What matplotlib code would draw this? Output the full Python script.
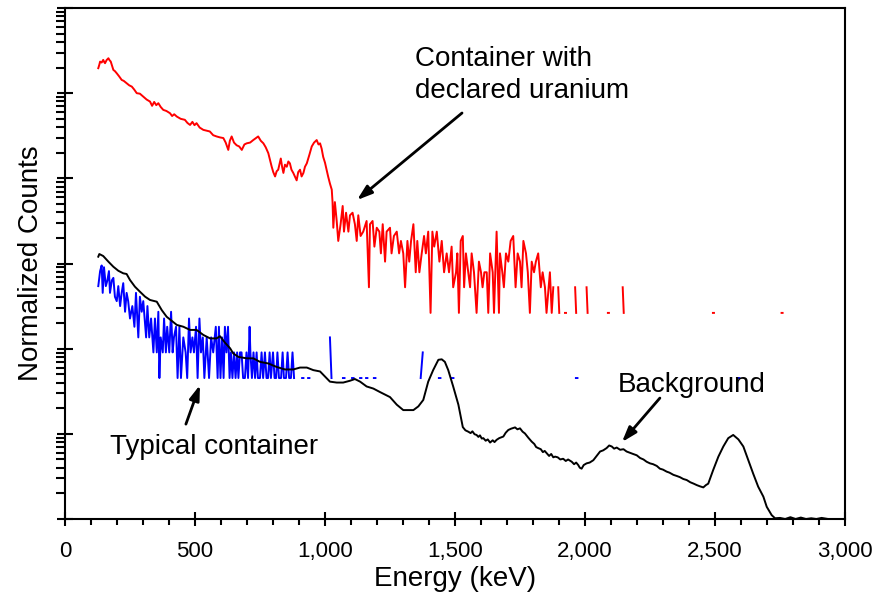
#!/usr/bin/env python3
from __future__ import annotations

import matplotlib

matplotlib.use("Agg")
import matplotlib.pyplot as plt
from matplotlib.ticker import FuncFormatter, LogLocator, MultipleLocator, NullFormatter
import numpy as np

nan = float("nan")

# container with declared uranium: raw counts per channel, scaled by RED_NORM
RED_NORM = 263.0
RED_ENERGY = [
    128, 132, 135, 141, 147, 151, 154, 160, 167, 171,
    176, 181, 186, 192, 199, 208, 218, 226, 237, 247,
    257, 266, 276, 288, 301, 314, 327, 335, 343, 351,
    359, 368, 378, 390, 404, 412, 420, 430, 445, 461,
    471, 481, 490, 498, 506, 518, 532, 545, 557, 570,
    583, 596, 609, 618, 628, 634, 641, 650, 660, 670,
    680, 690, 699, 712, 724, 733, 743, 753, 763, 772,
    782, 790, 795, 801, 808, 814, 820, 826, 830, 835,
    840, 846, 853, 859, 865, 871, 878, 884, 891, 897,
    904, 910, 917, 923, 930, 940, 949, 958, 968, 975,
    981, 987, 993, 1000, 1006, 1012, 1019, 1026,
    1029, 1032, 1038, 1045, 1051, 1060, 1068, 1073, 1081, 1090,
    1096, 1106, 1115, 1122, 1128, 1137, 1147, 1160, 1169, 1173,
    1183, 1190, 1199, 1209, 1215, 1222, 1231, 1237, 1250, 1256,
    1265, 1276, 1285, 1292, 1301, 1308, 1317, 1324, 1331, 1340,
    1349, 1355, 1363, 1372, 1381, 1388, 1397, 1406, 1413, 1420,
    1430, 1440, 1449, 1458, 1468, 1477, 1487, 1493, 1504, 1509,
    1515, 1522, 1530, 1535, 1542, 1551, 1558, 1564, 1573, 1583,
    1592, 1600, 1606, 1613, 1622, 1628, 1635, 1645, 1650, 1660,
    1669, 1673, 1682, 1688, 1696, 1705, 1714, 1724, 1733, 1741,
    1750, 1756, 1763, 1773, 1780, 1788, 1795, 1804, 1811, 1820,
    1830, 1837, 1846, 1852, 1860, 1865, 1872, 1878,
    1885, 1897, 1901, 1910, 1923, 1927, 1940, 1962, 1966, 1985,
    2006, 2010, 2050, 2088, 2092, 2120, 2145, 2149, 2300, 2492,
    2496, 2600, 2756, 2760,
]
RED_COUNTS = [
    747, 820, 893, 870, 935, 880, 855, 930, 978, 930,
    893, 800, 713, 690, 651, 600, 544, 530, 498, 470,
    454, 420, 380, 375, 347, 320, 303, 270, 300, 275,
    290, 262, 242, 235, 221, 205, 215, 202, 190, 185,
    170, 161, 175, 160, 169, 150, 141, 138, 135, 122,
    118, 115, 113, 100, 82, 105, 118, 100, 93, 90,
    82, 95, 98, 100, 107, 112, 118, 105, 98, 88,
    75, 60, 52, 45, 40, 46, 48, 58, 65, 52,
    44, 55, 52, 60, 57, 48, 44, 40, 36, 45,
    48, 40, 44, 52, 57, 72, 90, 100, 107, 95,
    98, 85, 68, 58, 48, 40, 33, 28,
    20, 10, 20, 12, 7, 11, 18, 9, 15, 9,
    14, 15, 11, 7, 14, 8, 9, 12, 2, 11,
    12, 6, 10, 9, 5, 11, 4, 9, 10, 5,
    8, 9, 5, 7, 5, 2, 7, 4, 7, 11,
    3, 7, 3, 5, 8, 5, 9, 1, 9, 6,
    9, 4, 7, 3, 5, 3, 6, 2, 3, 5,
    1, 7, 8, 2, 5, 3, 2, 5, 3, 1,
    4, 3, 2, 3, 3, 1, 5, 3, 1, 9,
    1, 5, 3, 2, 5, 4, 7, 8, 2, 5,
    4, 2, 7, 5, 3, 1, 4, 3, 4, 5,
    2, 3, 2, 1, 2, 3, 1, 2,
    nan, 2, 1, nan, 1, 1, nan, 2, 1, nan,
    2, 1, nan, 1, 1, nan, 2, 1, nan, 1,
    1, nan, 1, 1,
]

# typical container: raw counts per channel, scaled by BLUE_NORM
BLUE_NORM = 45.2
BLUE_ENERGY = [
    128, 135, 141, 145, 150, 157, 163, 169, 173, 180,
    186, 192, 199, 205, 212, 218, 224, 231, 237, 243,
    250, 259, 267, 273, 282, 288, 295, 301, 312, 317,
    324, 331, 340, 346, 353, 359, 363, 368, 376, 381,
    388, 393, 401, 408, 414, 419, 427, 433, 440, 446,
    455, 464, 470, 477, 483, 490, 496, 504, 510, 517,
    523, 530, 536, 545, 554, 562, 570, 580, 587,
    592, 598, 604, 610, 615, 621, 627, 633, 638, 644,
    650, 656, 662, 667, 673, 679, 685, 692, 698, 704,
    710, 713, 719, 725, 731, 737, 742, 750, 756, 762,
    769, 775, 781, 787, 792, 800, 806, 812, 817, 823,
    831, 837, 842, 850, 856, 862, 869, 875, 881,
    890, 912, 917, 925, 935, 940, 980, 1019, 1025, 1050,
    1069, 1075, 1090, 1104, 1110, 1120, 1135, 1140, 1150, 1158,
    1163, 1175, 1188, 1194, 1300, 1368, 1376, 1400, 1438, 1444,
    1460, 1488, 1494, 1700, 1965, 1971, 2200, 2588, 2594,
]
BLUE_COUNTS = [
    12, 18, 21, 10, 20, 12, 14, 18, 10, 14,
    15, 9, 8, 12, 7, 10, 13, 6, 10, 8,
    5, 7, 4, 10, 3, 9, 6, 8, 3, 7,
    3, 5, 2, 5, 2, 6, 1, 3, 2, 5,
    2, 4, 2, 6, 2, 3, 4, 1, 4, 1,
    3, 2, 1, 5, 2, 3, 2, 4, 1, 5,
    2, 3, 1, 3, 1, 3, 2, 4, 1,
    4, 1, 3, 1, 4, 2, 4, 1, 2, 1,
    2, 1, 2, 1, 2, 2, 1, 1, 2, 1,
    4, 2, 1, 2, 1, 2, 1, 1, 2, 1,
    2, 1, 1, 2, 1, 2, 1, 1, 2, 1,
    1, 2, 1, 1, 2, 1, 1, 2, 1,
    nan, 1, 1, nan, 1, 1, nan, 3, 1, nan,
    1, 1, nan, 1, 1, nan, 1, 1, nan, 1,
    1, nan, 1, 1, nan, 1, 2, nan, 1, 1,
    nan, 1, 1, nan, 1, 1, nan, 1, 1,
]

# background spectrum, already normalized
BLACK_ENERGY = [
    128, 132, 147, 167, 186, 205, 224, 237, 250, 269,
    288, 308, 327, 353, 372, 391, 410, 430, 455, 481,
    506, 532, 558, 583, 596, 615, 635, 647, 667, 699,
    724, 750, 782, 814, 846, 878, 904, 930, 955, 981,
    1000, 1019, 1045, 1070, 1096, 1115, 1135, 1160, 1186, 1211,
    1250, 1276, 1301, 1340, 1359, 1378, 1397, 1416, 1436, 1449,
    1461, 1474, 1493, 1513, 1530, 1540, 1551, 1560, 1567, 1575,
    1583, 1590, 1596, 1603, 1609, 1618, 1626, 1635, 1645, 1652,
    1660, 1670, 1678, 1686, 1695, 1705, 1716, 1731, 1740, 1750,
    1760, 1769, 1782, 1795, 1805, 1812, 1820, 1830, 1838, 1845,
    1853, 1862, 1870, 1878, 1885, 1895, 1905, 1916, 1926, 1935,
    1949, 1958, 1966, 1974, 1980, 1987, 1995, 2006, 2018, 2032,
    2045, 2058, 2070, 2083, 2093, 2103, 2112, 2122, 2135, 2148,
    2160, 2172, 2185, 2199, 2212, 2225, 2237, 2250, 2262, 2276,
    2288, 2300, 2314, 2325, 2340, 2353, 2365, 2378, 2391, 2405,
    2418, 2430, 2442, 2455, 2465, 2474, 2493, 2513, 2532, 2551,
    2570, 2590, 2609, 2628, 2647, 2666, 2686, 2699, 2718, 2731,
    2750, 2770, 2790, 2810, 2830, 2850, 2870, 2890, 2910, 2935,
]
BLACK_COUNTS = [
    1202, 1292, 1224, 1050, 916, 822, 767, 753, 640, 534,
    467, 408, 373, 356, 284, 237, 213, 190, 181, 166,
    166, 145, 132, 132, 140, 118, 101, 88, 80, 77,
    77, 70, 67, 61, 57, 57, 60, 60, 56, 54,
    47, 41, 40, 40, 42, 44, 41, 36, 34, 31,
    27, 22, 19, 19, 21, 25, 41, 56, 74, 75,
    70, 56, 36, 22, 12, 11.0, 10.6, 10.2, 10.7, 9.9,
    9.7, 9.2, 9.6, 8.8, 8.9, 8.3, 8.6, 7.9, 8.4, 8.0,
    8.5, 8.9, 9.1, 9.3, 10.3, 11.1, 11.5, 11.9, 11.3, 11.6,
    10.6, 10.1, 9.0, 8.1, 7.6, 7.0, 6.8, 6.6, 6.1, 6.3,
    5.9, 5.5, 5.8, 5.3, 5.4, 5.3, 5.0, 5.1, 4.8, 5.0,
    4.7, 4.4, 4.6, 4.3, 4.0, 3.9, 4.3, 4.5, 4.6, 4.9,
    5.5, 6.2, 6.4, 6.8, 7.3, 7.1, 6.7, 6.9, 6.5, 6.6,
    6.2, 6.0, 5.8, 5.6, 5.2, 5.0, 4.7, 4.5, 4.4, 4.2,
    3.9, 3.8, 3.6, 3.5, 3.3, 3.2, 3.1, 2.95, 2.87, 2.7,
    2.6, 2.5, 2.42, 2.35, 2.5, 2.6, 3.76, 5.4, 7.1, 8.9,
    9.7, 8.6, 7.1, 4.9, 3.4, 2.4, 1.83, 1.39, 1.11, 1.02,
    1.03, 1.0, 1.05, 1.0, 1.04, 1.0, 1.02, 1.0, 1.03, 1.0,
]

X_TICKS = [0, 500, 1000, 1500, 2000, 2500, 3000]
X_LABEL = "Energy (keV)"
Y_LABEL = "Normalized Counts"
LABEL_URANIUM = "Container with\ndeclared uranium"
LABEL_TYPICAL = "Typical container"
LABEL_BACKGROUND = "Background"

FONT_STACK = ["Liberation Sans", "DejaVu Sans"]
TEXT_SIZE = 20


def _configure_plot_style() -> None:
    plt.rcParams.update(
        {
            "font.family": FONT_STACK,
            "figure.facecolor": "white",
            "axes.facecolor": "white",
            "axes.linewidth": 1.5,
        }
    )


def _format_energy(value: float, _pos: int) -> str:
    return f"{value:,.0f}"


def _style_axis(ax) -> None:
    ax.set_xlim(0, 3000)
    ax.set_yscale("log")
    ax.set_ylim(1, 1e6)
    ax.set_xticks(X_TICKS)
    ax.xaxis.set_major_formatter(FuncFormatter(_format_energy))
    ax.xaxis.set_minor_locator(MultipleLocator(100))
    ax.yaxis.set_major_locator(LogLocator(base=10, numticks=10))
    ax.yaxis.set_minor_locator(LogLocator(base=10, subs=np.arange(2, 10), numticks=20))
    ax.yaxis.set_major_formatter(NullFormatter())
    ax.yaxis.set_minor_formatter(NullFormatter())
    ax.tick_params(axis="x", which="major", direction="inout", length=10, width=1.5,
                   labelsize=16, pad=11)
    ax.tick_params(axis="x", which="minor", direction="out", length=4.5, width=1.5)
    ax.tick_params(axis="y", which="major", direction="inout", length=12, width=1.5)
    ax.tick_params(axis="y", which="minor", direction="out", length=6.5, width=1.5)
    ax.set_xlabel(X_LABEL, fontsize=TEXT_SIZE, labelpad=3)
    ax.set_ylabel(Y_LABEL, fontsize=TEXT_SIZE, labelpad=5)


def _annotate(ax) -> None:
    arrow = dict(arrowstyle="-|>,head_length=0.9,head_width=0.3", color="black",
                 lw=2.0, shrinkA=0, shrinkB=0)
    ax.text(1346, 1.63e5, LABEL_URANIUM, fontsize=TEXT_SIZE, ha="left", va="center",
            linespacing=1.33)
    ax.annotate("", xy=(1123, 5560), xytext=(1527, 5.85e4), arrowprops=arrow)
    ax.text(173, 7.0, LABEL_TYPICAL, fontsize=TEXT_SIZE, ha="left", va="center")
    ax.annotate("", xy=(519, 37.4), xytext=(465, 13.0), arrowprops=arrow)
    ax.text(2127, 37.4, LABEL_BACKGROUND, fontsize=TEXT_SIZE, ha="left", va="center")
    ax.annotate("", xy=(2142, 8.0), xytext=(2288, 26.3), arrowprops=arrow)


def main() -> None:
    _configure_plot_style()
    fig = plt.figure(figsize=(8.74, 5.96), dpi=100)
    ax = fig.add_axes([65 / 874, 77 / 596, 780 / 874, 511 / 596])

    red = np.asarray(RED_COUNTS, dtype=float) * RED_NORM
    blue = np.asarray(BLUE_COUNTS, dtype=float) * BLUE_NORM
    black = np.asarray(BLACK_COUNTS, dtype=float)

    ax.plot(RED_ENERGY, red, color="#FF0000", linewidth=1.4, zorder=3)
    ax.plot(BLUE_ENERGY, blue, color="#0000FF", linewidth=1.4, zorder=3)
    ax.plot(BLACK_ENERGY, black, color="black", linewidth=1.4, zorder=4)

    _style_axis(ax)
    _annotate(ax)
    fig.savefig("out.png", dpi=100)
    plt.close(fig)


if __name__ == "__main__":
    main()
